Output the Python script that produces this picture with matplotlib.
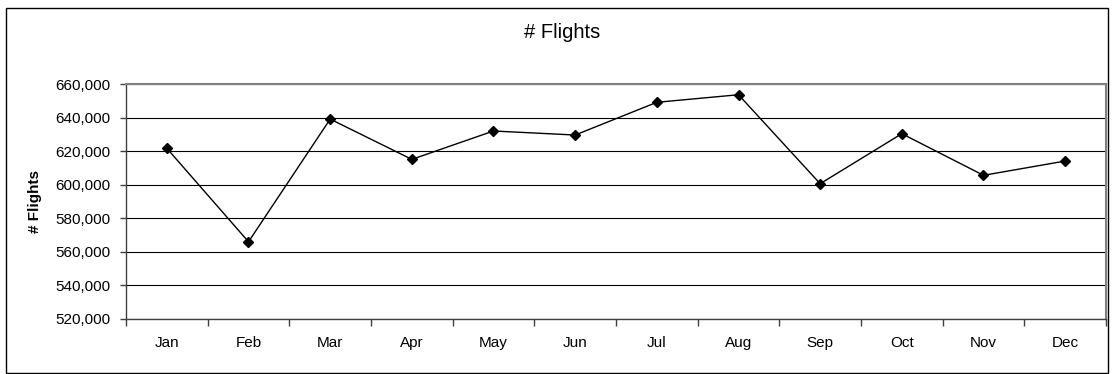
import numpy as np
import matplotlib.pyplot as plt
from matplotlib.patches import Rectangle
from matplotlib.ticker import FuncFormatter, FixedLocator

plt.rcParams['font.family'] = ['Liberation Sans', 'DejaVu Sans']

months = ['Jan', 'Feb', 'Mar', 'Apr', 'May', 'Jun',
          'Jul', 'Aug', 'Sep', 'Oct', 'Nov', 'Dec']
flights = [621700, 566000, 639100, 615100, 632000, 629600,
           649100, 653600, 600600, 630400, 605600, 614100]

fig = plt.figure(figsize=(11.14, 3.74), dpi=100)
ax = fig.add_axes([126 / 1114, 1 - 319 / 374, 980 / 1114, 235 / 374])

x = np.arange(len(months))
ax.plot(x, flights, color='black', linewidth=1, marker='D',
        markersize=5.5, markerfacecolor='black', markeredgecolor='black',
        zorder=3)

ax.set_xlim(-0.5, len(months) - 0.5)
ax.set_ylim(520000, 660000)
ax.set_yticks(np.arange(520000, 660001, 20000))
ax.yaxis.set_major_formatter(FuncFormatter(lambda v, p: f'{int(v):,}'))
ax.grid(axis='y', color='black', linewidth=0.8)
ax.set_axisbelow(True)

# category labels in the middle, ticks on the boundaries
ax.xaxis.set_major_locator(FixedLocator(np.arange(-0.5, len(months), 1.0)))
ax.xaxis.set_minor_locator(FixedLocator(x))
ax.set_xticklabels([])
ax.set_xticklabels(months, minor=True)
ax.tick_params(axis='x', which='major', direction='out', length=5,
               width=1, color='#404040')
ax.tick_params(axis='x', which='minor', length=0, pad=12, labelsize=11)
ax.tick_params(axis='y', direction='out', length=4, width=1,
               color='#404040', labelsize=11, pad=7)

for side in ['left', 'bottom']:
    ax.spines[side].set_color('#404040')
    ax.spines[side].set_linewidth(1)
for side in ['top', 'right']:
    ax.spines[side].set_color('#808080')
    ax.spines[side].set_linewidth(1.5)

ax.set_ylabel('# Flights', fontsize=11, fontweight='bold', labelpad=10)
fig.text(0.505, 1 - 33 / 374, '# Flights', ha='center', va='center',
         fontsize=14.5)

# outer chart border
fig.patches.append(Rectangle((6 / 1114, 1 / 374), 1102 / 1114, 365 / 374,
                             transform=fig.transFigure, fill=False,
                             edgecolor='black', linewidth=1))

fig.savefig('out.png', dpi=100)
